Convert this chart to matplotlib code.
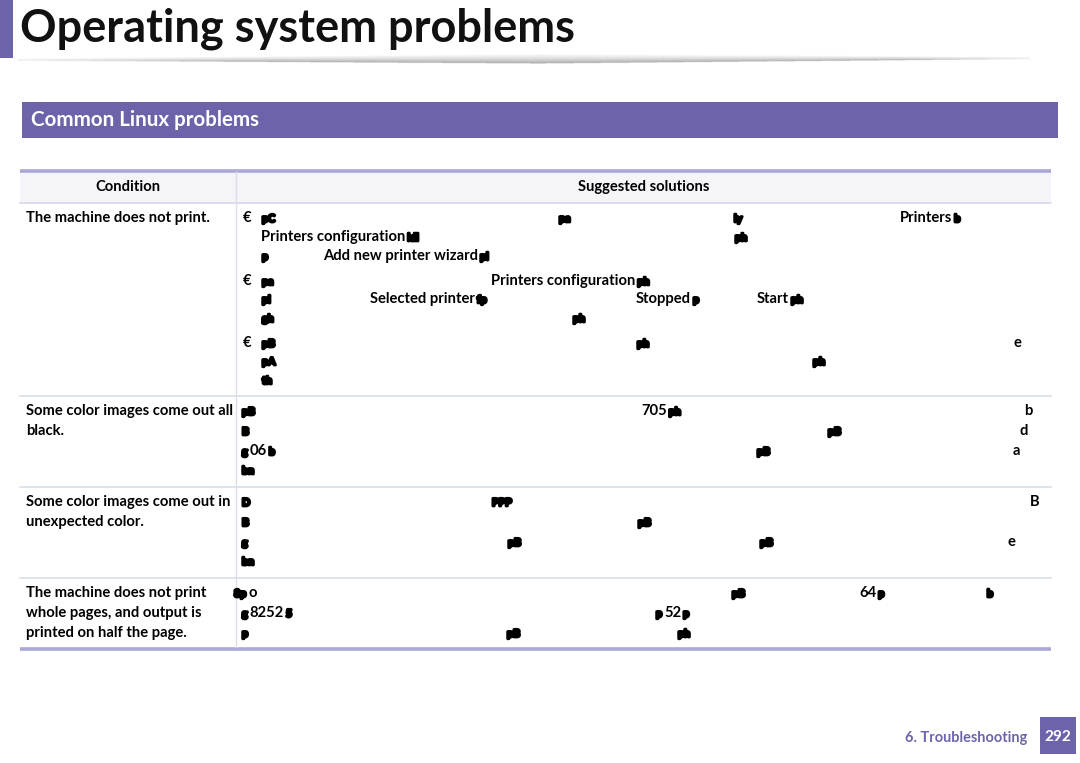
import matplotlib
matplotlib.use('Agg')
import matplotlib.pyplot as plt
import matplotlib.patheffects as pe
import numpy as np
from matplotlib.patches import Rectangle

# ---------------- content ----------------
page_title = "Operating system problems"
section_title = "Common Linux problems"
col_headers = ["Condition", "Suggested solutions"]
conditions = [
    ["The machine does not print."],
    ["Some color images come out all", "black."],
    ["Some color images come out in", "unexpected color."],
    ["The machine does not print", "whole pages, and output is", "printed on half the page."],
]
footer_chapter = "6. Troubleshooting"
page_number = "292"

# solution fragments per row: (line, x, blob_prefix, readable_text, blob_suffix)
row1_frags = [
    (0, 261, "pC", "", ""), (0, 558, "pa", "", ""), (0, 733, "ly", "", ""), (0, 900, "", "Printers", "b"),
    (1, 261, "", "Printers configuration", "ldl"), (1, 734, "ph", "", ""),
    (2, 261, "p", "", ""), (2, 323, "", "Add new printer wizard", "pl"),
    (3, 261, "pa", "", ""), (3, 491, "", "Printers configuration", "ph"),
    (4, 261, "pl", "", ""), (4, 370, "", "Selected printer", "fp"), (4, 636, "", "Stopped", "p"), (4, 757, "", "Start", "ph"),
    (5, 261, "gh", "", ""), (5, 572, "ph", "", ""),
    (6, 261, "pB", "", ""), (6, 636, "ph", "", ""), (6, 1014, "", "e", ""),
    (7, 261, "pA", "", ""), (7, 812, "ph", "", ""),
    (8, 261, "th", "", ""),
]
row1_bullet_lines = [0, 3, 6]
row2_frags = [
    (0, 241, "pB", "", ""), (0, 641, "", "705", "ph"), (0, 1024, "", "b", ""),
    (1, 241, "B", "", ""), (1, 827, "pB", "", ""), (1, 1020, "", "d", ""),
    (2, 241, "g", "06", "b"), (2, 756, "pB", "", ""), (2, 1013, "", "a", ""),
    (3, 241, "bn", "", ""),
]
row3_frags = [
    (0, 241, "D", "", ""), (0, 491, "PPP", "", ""), (0, 1030, "", "B", ""),
    (1, 241, "B", "", ""), (1, 637, "pB", "", ""),
    (2, 241, "g", "", ""), (2, 507, "pB", "", ""), (2, 759, "pB", "", ""), (2, 1007, "", "e", ""),
    (3, 241, "bn", "", ""),
]
row4_frags = [
    (0, 233, "8p", "o", ""), (0, 731, "pB", "", ""), (0, 859, "", "64", "p"), (0, 986, "b", "", ""),
    (1, 241, "g", "8252", "5"), (1, 655, "p", "52", "p"),
    (2, 241, "p", "", ""), (2, 506, "pB", "", ""), (2, 677, "ph", "", ""),
]

# ---------------- layout ----------------
W, H = 1080, 763
PURPLE = '#6B64AB'
LAV = '#A9A8D6'
FONT = 'Lato'

fig = plt.figure(figsize=(W / 100, H / 100), dpi=100)
ax = fig.add_axes([0, 0, 1, 1])
ax.set_xlim(0, W)
ax.set_ylim(H, 0)
ax.axis('off')
renderer = fig.canvas.get_renderer()


def fit_size(s, width, weight='bold', base=10):
    t = ax.text(0, 0, s, fontsize=base, fontweight=weight, family=FONT)
    w = t.get_window_extent(renderer).width
    t.remove()
    return base * width / w


def text_width(s, size, weight='bold'):
    t = ax.text(0, 0, s, fontsize=size, fontweight=weight, family=FONT)
    w = t.get_window_extent(renderer).width
    t.remove()
    return w


# left purple tab
ax.add_patch(Rectangle((0, 0), 13, 58, color=PURPLE, lw=0))
# title
ts = fit_size(page_title, 555)
ax.text(20, 42, page_title, fontsize=ts, fontweight='bold', family=FONT, color='#111111', va='baseline')

# swoosh rule under title
x0, x1, y0, y1 = 18, 1045, 51, 67
nx, ny = 1027, 64
gx = np.linspace(x0, x1, nx)
gy = np.linspace(y0, y1, ny)
GX, GY = np.meshgrid(gx, gy)
top = np.where(GX < 540, 58.5 - 4.0 * (GX - 20) / 520, 54.5 + 2.5 * (GX - 540) / 490)
bot = np.where(GX < 540, 60.5 + 3.0 * (GX - 20) / 520, 63.5 - 4.5 * (GX - 540) / 490)
d = (GY - top) / np.maximum(bot - top, 0.5)
inside = (d >= 0) & (d <= 1)
gray = 0.95 - 0.32 * np.clip(d, 0, 1) ** 1.5
fade = np.clip(np.minimum((GX - 20) / 220, (1030 - GX) / 120), 0, 1)
img = np.zeros((ny, nx, 4))
img[..., 0] = gray
img[..., 1] = gray
img[..., 2] = gray
img[..., 3] = inside * (0.3 + 0.6 * fade) * np.where(GX > 1030, 0, 1)
ax.imshow(img, extent=[x0, x1, y1, y0], aspect='auto', interpolation='bilinear', zorder=2)
ax.set_xlim(0, W)
ax.set_ylim(H, 0)

# section header band
ax.add_patch(Rectangle((22, 102), 1036, 35.5, color=PURPLE, lw=0))
ss = fit_size(section_title, 228)
ax.text(31, 125.5, section_title, fontsize=ss, fontweight='bold', family=FONT, color='white', va='baseline')

# table
body = fit_size(conditions[0][0], 184)
TL, TR, XSEP = 20, 1051, 236
ax.add_patch(Rectangle((TL, 171), TR - TL, 31, color='#F4F4F9', lw=0))
ax.plot([TL, TR], [170.5, 170.5], color=LAV, lw=2.6, solid_capstyle='butt')
ax.plot([TL, TR], [202.5, 202.5], color='#D2D2E8', lw=1.1)
for yy in [395.5, 486.5, 577.5]:
    ax.plot([TL, TR], [yy, yy], color='#D6DCE4', lw=1.1)
ax.plot([TL, TR], [648.5, 648.5], color=LAV, lw=2.6, solid_capstyle='butt')
ax.plot([XSEP, XSEP], [172, 647], color='#DCDCEA', lw=1.0)


def btext(x, y, s, **kw):
    return ax.text(x, y, s, fontsize=body, fontweight='bold', family=FONT, va='baseline',
                   color='black', **kw)


btext(128, 191, col_headers[0], ha='center')
btext(644, 191, col_headers[1], ha='center')

row_lines = [
    [217, 236, 255, 280, 298, 317, 342, 360, 379],
    [410, 430, 450, 469],
    [501, 521, 541, 560],
    [592, 612, 632],
]
for cond, lines in zip(conditions, row_lines):
    for i, s in enumerate(cond):
        btext(26, lines[i] + 5, s)


def blob(x, y, chars):
    """Illegible squeezed glyph cluster, drawn as one heavy text."""
    sz = body * 0.72
    ax.text(x + 1, y, chars, fontsize=sz, fontweight='bold', family=FONT, va='baseline', color='black',
            path_effects=[pe.withStroke(linewidth=2.0, foreground='black')])
    return x + text_width(chars, sz) + 3


for frags, lines in zip([row1_frags, row2_frags, row3_frags, row4_frags], row_lines):
    for (li, x, pre, txt, suf) in frags:
        y = lines[li] + 5
        cx = x
        if pre:
            cx = blob(cx, y, pre)
        if txt:
            btext(cx, y, txt)
            cx += text_width(txt, body) + 1
        if suf:
            blob(cx, y, suf)

for li in row1_bullet_lines:
    btext(243, row_lines[0][li] + 5, "€")

# footer
fs = fit_size(footer_chapter, 122)
ax.text(1027, 742, footer_chapter, fontsize=fs, fontweight='bold', family=FONT, color=PURPLE, ha='right', va='baseline')
ax.add_patch(Rectangle((1040, 717), 36, 37, color=PURPLE, lw=0))
ps = fit_size(page_number, 27)
ax.text(1058, 741, page_number, fontsize=ps, fontweight='bold', family=FONT, color='white', ha='center', va='baseline')

fig.savefig('out.png', dpi=100)
